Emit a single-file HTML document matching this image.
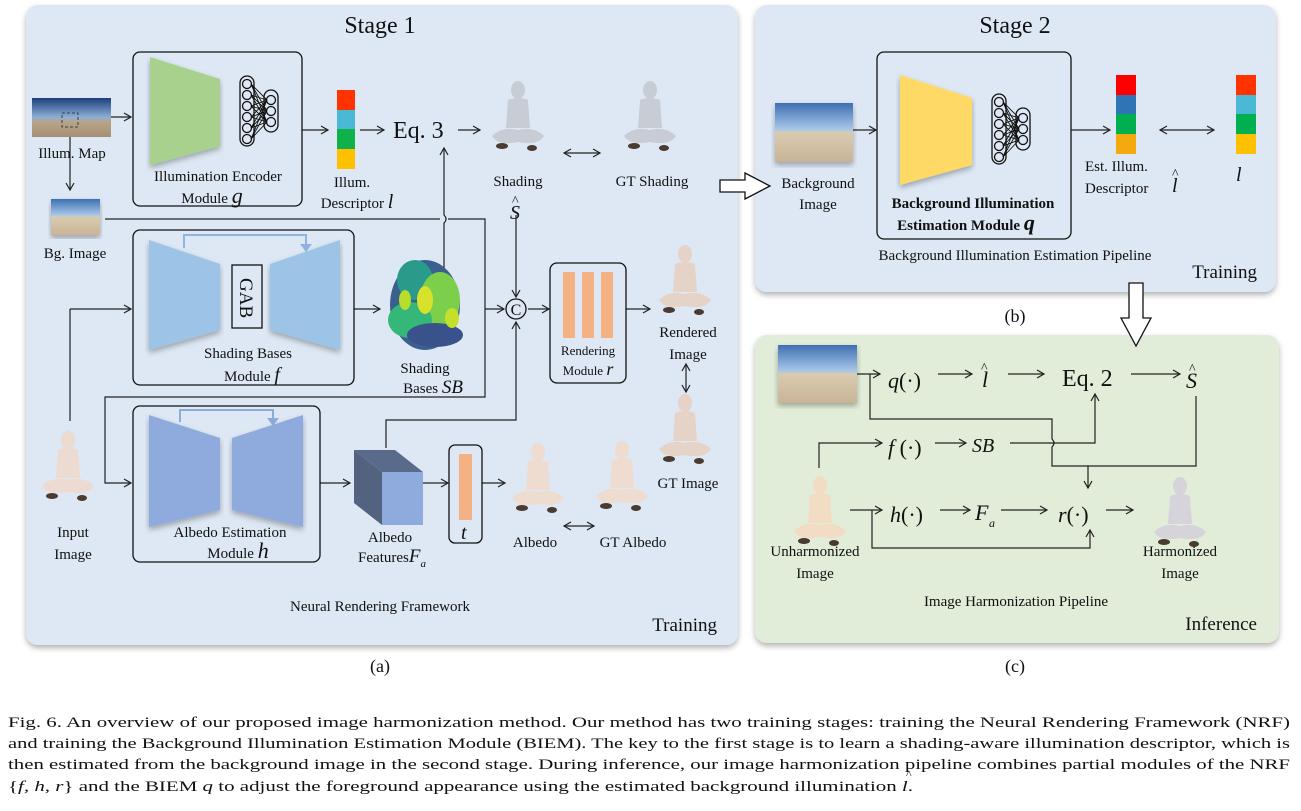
<!DOCTYPE html>
<html><head><meta charset="utf-8"><style>
html,body{margin:0;padding:0;background:#fff;}
svg{display:block;}
text{font-family:"Liberation Serif",serif;fill:#111;}
.i{font-style:italic;}
</style></head><body>
<svg width="1301" height="811" viewBox="0 0 1301 811" xmlns="http://www.w3.org/2000/svg">
<defs>
<marker id="a" markerWidth="10" markerHeight="10" refX="8" refY="5" orient="auto" markerUnits="userSpaceOnUse"><path d="M1,1 L8,5 L1,9" fill="none" stroke="#222" stroke-width="1.2"/></marker>
<marker id="as" markerWidth="10" markerHeight="10" refX="2" refY="5" orient="auto" markerUnits="userSpaceOnUse"><path d="M9,1 L2,5 L9,9" fill="none" stroke="#222" stroke-width="1.2"/></marker>
<filter id="sh" x="-5%" y="-5%" width="110%" height="115%"><feDropShadow dx="0" dy="3" stdDeviation="3" flood-color="#000" flood-opacity="0.3"/></filter>
<linearGradient id="beach" x1="0" y1="0" x2="0" y2="1"><stop offset="0" stop-color="#3f6fb3"/><stop offset="0.45" stop-color="#a8c8e8"/><stop offset="0.5" stop-color="#d9cbb0"/><stop offset="1" stop-color="#c9b497"/></linearGradient>
<linearGradient id="pano" x1="0" y1="0" x2="0" y2="1"><stop offset="0" stop-color="#1d3f7a"/><stop offset="0.5" stop-color="#8db0d8"/><stop offset="0.6" stop-color="#b7a58a"/><stop offset="1" stop-color="#a58f74"/></linearGradient>
<g id="kid">
<ellipse cx="30" cy="10" rx="7" ry="9"/>
<path d="M20,20 Q30,16 40,20 L42,48 L18,48 Z"/>
<path d="M4,56 Q14,46 30,50 Q46,46 56,56 Q50,66 30,62 Q10,66 4,56 Z"/>
<ellipse cx="14" cy="66" rx="6" ry="3" fill="#4a3a30"/>
<ellipse cx="44" cy="68" rx="5" ry="3" fill="#4a3a30"/>
</g>
<g id="nn" fill="none" stroke="#111" stroke-width="1.3">
<rect x="0" y="0" width="14" height="70" rx="7"/><rect x="24" y="14" width="14" height="42" rx="7"/>
<circle cx="7" cy="8" r="4.5"/><circle cx="7" cy="19" r="4.5"/><circle cx="7" cy="30" r="4.5"/><circle cx="7" cy="41" r="4.5"/><circle cx="7" cy="52" r="4.5"/><circle cx="7" cy="63" r="4.5"/>
<circle cx="31" cy="24" r="4.5"/><circle cx="31" cy="35" r="4.5"/><circle cx="31" cy="46" r="4.5"/>
<path d="M11,8 L27,24 M11,8 L27,35 M11,8 L27,46 M11,19 L27,24 M11,19 L27,35 M11,19 L27,46 M11,30 L27,24 M11,30 L27,35 M11,30 L27,46 M11,41 L27,24 M11,41 L27,35 M11,41 L27,46 M11,52 L27,24 M11,52 L27,35 M11,52 L27,46 M11,63 L27,24 M11,63 L27,35 M11,63 L27,46" stroke-width="0.9"/>
</g>
</defs>

<!-- Panels -->
<rect x="26" y="5" width="712" height="640" rx="12" fill="#dde8f4" filter="url(#sh)"/>
<rect x="755" y="5" width="521" height="287" rx="12" fill="#dde8f4" filter="url(#sh)"/>
<rect x="755" y="335" width="524" height="308" rx="12" fill="#e1edd8" filter="url(#sh)"/>

<g stroke="#222" stroke-width="1.2" fill="none">
<!-- panel a lines -->
<line x1="84" y1="117" x2="131" y2="117" marker-end="url(#a)"/>
<line x1="70" y1="122" x2="70" y2="190" marker-end="url(#a)"/>
<path d="M105,219 L440,219 M448,219 L485,219 L485,397 L105,397 L105,483 L131,483" marker-end="url(#a)"/>
<line x1="485" y1="309" x2="504" y2="309" marker-end="url(#a)"/>
<line x1="302" y1="130" x2="328" y2="130" marker-end="url(#a)"/>
<line x1="360" y1="130" x2="384" y2="130" marker-end="url(#a)"/>
<line x1="458" y1="130" x2="480" y2="130" marker-end="url(#a)"/>
<path d="M444,270 L444,223 Q448,219 444,215 L444,148" marker-end="url(#a)"/>
<line x1="564" y1="153" x2="600" y2="153" marker-end="url(#a)" marker-start="url(#as)"/>
<line x1="516" y1="215" x2="516" y2="297" marker-end="url(#a)"/>
<path d="M386,448 L386,420 L516,420 L516,322" marker-end="url(#a)"/>
<line x1="70" y1="421" x2="70" y2="309"/>
<line x1="70" y1="309" x2="131" y2="309" marker-end="url(#a)"/>
<line x1="354" y1="309" x2="380" y2="309" marker-end="url(#a)"/>
<line x1="528" y1="309" x2="549" y2="309" marker-end="url(#a)"/>
<line x1="626" y1="309" x2="650" y2="309" marker-end="url(#a)"/>
<line x1="686" y1="364" x2="686" y2="392" marker-end="url(#a)" marker-start="url(#as)"/>
<line x1="320" y1="483" x2="350" y2="483" marker-end="url(#a)"/>
<line x1="423" y1="483" x2="448" y2="483" marker-end="url(#a)"/>
<line x1="482" y1="483" x2="505" y2="483" marker-end="url(#a)"/>
<line x1="564" y1="526" x2="594" y2="526" marker-end="url(#a)" marker-start="url(#as)"/>
<!-- panel b -->
<line x1="853" y1="130" x2="876" y2="130" marker-end="url(#a)"/>
<line x1="1071" y1="130" x2="1110" y2="130" marker-end="url(#a)"/>
<line x1="1160" y1="130" x2="1214" y2="130" marker-end="url(#a)" marker-start="url(#as)"/>
<!-- panel c -->
<line x1="857" y1="374" x2="880" y2="374" marker-end="url(#a)"/>
<line x1="938" y1="374" x2="972" y2="374" marker-end="url(#a)"/>
<line x1="1008" y1="374" x2="1044" y2="374" marker-end="url(#a)"/>
<line x1="1131" y1="374" x2="1180" y2="374" marker-end="url(#a)"/>
<path d="M870,374 L870,419 L1052,419 L1052,439 Q1056,443 1052,447 L1052,466 L1196,466 L1196,396"/>
<line x1="1088" y1="466" x2="1088" y2="488" marker-end="url(#a)"/>
<path d="M819,468 L819,443 L882,443" marker-end="url(#a)"/>
<line x1="935" y1="443" x2="966" y2="443" marker-end="url(#a)"/>
<path d="M1010,443 L1095,443 L1095,394" marker-end="url(#a)"/>
<line x1="850" y1="510" x2="882" y2="510" marker-end="url(#a)"/>
<line x1="940" y1="510" x2="970" y2="510" marker-end="url(#a)"/>
<line x1="1001" y1="510" x2="1047" y2="510" marker-end="url(#a)"/>
<line x1="1106" y1="510" x2="1133" y2="510" marker-end="url(#a)"/>
<path d="M872,510 L872,548 L1090,548 L1090,530" marker-end="url(#a)"/>
</g>

<!-- hollow arrows -->
<path d="M720,180 L745,180 L745,173 L770,186 L745,199 L745,192 L720,192 Z" fill="#fff" stroke="#111" stroke-width="1.3"/>
<path d="M1129,283 L1143,283 L1143,318 L1151,318 L1136,346 L1121,318 L1129,318 Z" fill="#fff" stroke="#111" stroke-width="1.3"/>

<!-- Stage 1 -->
<text x="380" y="33" font-size="24" text-anchor="middle">Stage  1</text>
<rect x="32" y="98" width="79" height="39" fill="url(#pano)"/>
<rect x="62" y="113" width="16" height="14" fill="none" stroke="#222" stroke-dasharray="3,2" stroke-width="0.8"/>
<text x="72" y="158" font-size="15" text-anchor="middle">Illum. Map</text>
<rect x="51" y="199" width="49" height="36" fill="url(#beach)" filter="url(#sh)"/>
<text x="75" y="258" font-size="15" text-anchor="middle">Bg. Image</text>

<rect x="133" y="52" width="169" height="154" rx="7" fill="none" stroke="#111" stroke-width="1.3"/>
<path d="M150,57 L220,79 L220,146 L150,165 Z" fill="#a9d18e" filter="url(#sh)"/>
<use href="#nn" x="240" y="76"/>
<text x="218" y="181" font-size="15" text-anchor="middle">Illumination Encoder</text>
<text x="212" y="203" font-size="15" text-anchor="middle">Module <tspan class="i" font-size="22">g</tspan></text>

<rect x="337" y="90" width="18" height="20" fill="#ff3300"/><rect x="337" y="110" width="18" height="19" fill="#4bb8d6"/><rect x="337" y="129" width="18" height="20" fill="#0fb14b"/><rect x="337" y="149" width="18" height="20" fill="#ffc000"/>
<text x="352" y="187" font-size="15" text-anchor="middle">Illum.</text>
<text x="357" y="208" font-size="15" text-anchor="middle">Descriptor <tspan class="i" font-size="20">l</tspan></text>
<text x="393" y="138" font-size="24">Eq. 3</text>

<use href="#kid" x="488" y="80" fill="#c8ccd4" transform="translate(0,0)"/>
<use href="#kid" x="620" y="80" fill="#c8ccd4"/>
<text x="518" y="186" font-size="15" text-anchor="middle">Shading</text>
<text x="652" y="186" font-size="15" text-anchor="middle">GT Shading</text>
<text x="510" y="219" font-size="20" class="i">S</text><text x="512" y="205" font-size="14">^</text>

<!-- shading bases box -->
<rect x="133" y="230" width="221" height="155" rx="7" fill="none" stroke="#111" stroke-width="1.3"/>
<path d="M184,248 L184,235 L306,235 L306,248" fill="none" stroke="#8fb4e0" stroke-width="2"/>
<path d="M300,244 L312,244 L306,252 Z" fill="#8fb4e0"/>
<path d="M149,240 L220,264 L220,330 L149,350 Z" fill="#9dc3e6" filter="url(#sh)"/>
<path d="M270,264 L340,240 L340,350 L270,330 Z" fill="#9dc3e6" filter="url(#sh)"/>
<rect x="232" y="265" width="30" height="63" fill="none" stroke="#111" stroke-width="1.3"/>
<text x="0" y="0" font-size="19" transform="translate(240,278) rotate(90)">GAB</text>
<text x="248" y="358" font-size="15" text-anchor="middle">Shading Bases</text>
<text x="252" y="381" font-size="15" text-anchor="middle">Module <tspan class="i" font-size="20">f</tspan></text>

<!-- blob -->
<g>
<ellipse cx="425" cy="305" rx="35" ry="45" fill="#3b5f8f"/>
<ellipse cx="415" cy="280" rx="18" ry="20" fill="#2a9a8a"/>
<ellipse cx="440" cy="300" rx="20" ry="28" fill="#7ccf4a"/>
<ellipse cx="410" cy="320" rx="22" ry="18" fill="#35b779"/>
<ellipse cx="435" cy="335" rx="28" ry="12" fill="#3a528b"/>
<ellipse cx="425" cy="300" rx="8" ry="14" fill="#d8e22a"/>
<ellipse cx="405" cy="300" rx="6" ry="10" fill="#b6de2b"/>
<ellipse cx="452" cy="318" rx="7" ry="10" fill="#c4e02b"/>
</g>
<text x="425" y="373" font-size="15" text-anchor="middle">Shading</text>
<text x="433" y="393" font-size="15" text-anchor="middle">Bases <tspan class="i" font-size="19">SB</tspan></text>

<circle cx="516" cy="309" r="10" fill="none" stroke="#111" stroke-width="1.3"/>
<text x="516" y="315" font-size="16" text-anchor="middle">C</text>

<rect x="550" y="263" width="76" height="120" rx="7" fill="none" stroke="#111" stroke-width="1.3"/>
<rect x="563" y="272" width="12" height="66" fill="#f4b183"/><rect x="582" y="272" width="12" height="66" fill="#f4b183"/><rect x="601" y="272" width="12" height="66" fill="#f4b183"/>
<text x="588" y="355" font-size="13" text-anchor="middle">Rendering</text>
<text x="588" y="375" font-size="13" text-anchor="middle">Module <tspan class="i" font-size="18">r</tspan></text>

<use href="#kid" x="655" y="244" fill="#e5d3c8"/>
<text x="688" y="337" font-size="15" text-anchor="middle">Rendered</text>
<text x="688" y="359" font-size="15" text-anchor="middle">Image</text>
<use href="#kid" x="655" y="393" fill="#e5d3c8"/>
<text x="688" y="488" font-size="15" text-anchor="middle">GT Image</text>

<use href="#kid" x="38" y="430" fill="#eddad0"/>
<text x="73" y="537" font-size="15" text-anchor="middle">Input</text>
<text x="73" y="559" font-size="15" text-anchor="middle">Image</text>

<!-- albedo box -->
<rect x="133" y="406" width="187" height="156" rx="7" fill="none" stroke="#111" stroke-width="1.3"/>
<path d="M180,422 L180,410 L273,410 L273,422" fill="none" stroke="#8faadc" stroke-width="2"/>
<path d="M267,418 L279,418 L273,426 Z" fill="#8faadc"/>
<path d="M149,415 L220,438 L220,510 L149,527 Z" fill="#8faadc" filter="url(#sh)"/>
<path d="M232,438 L303,415 L303,527 L232,510 Z" fill="#8faadc" filter="url(#sh)"/>
<text x="230" y="537" font-size="15" text-anchor="middle">Albedo Estimation</text>
<text x="238" y="558" font-size="15" text-anchor="middle">Module <tspan class="i" font-size="22">h</tspan></text>

<path d="M354,450 L395,450 L423,472 L382,472 Z" fill="#5a6a8a"/>
<path d="M354,450 L382,472 L382,525 L354,503 Z" fill="#53627e"/>
<rect x="382" y="472" width="41" height="53" fill="#8faadc"/>
<text x="390" y="542" font-size="15" text-anchor="middle">Albedo</text>
<text x="392" y="562" font-size="15" text-anchor="middle">Features<tspan class="i" font-size="19">F</tspan><tspan class="i" font-size="11" dy="5">a</tspan></text>

<rect x="449" y="445" width="33" height="98" rx="6" fill="none" stroke="#111" stroke-width="1.3"/>
<rect x="459" y="454" width="13" height="66" fill="#f4b183"/>
<text x="461" y="539" font-size="20" class="i">t</text>

<use href="#kid" x="508" y="442" fill="#eedcd0"/>
<use href="#kid" x="592" y="440" fill="#eedcd0"/>
<text x="535" y="547" font-size="15" text-anchor="middle">Albedo</text>
<text x="633" y="547" font-size="15" text-anchor="middle">GT Albedo</text>

<text x="380" y="611" font-size="15" text-anchor="middle">Neural Rendering Framework</text>
<text x="717" y="631" font-size="19" text-anchor="end">Training</text>
<text x="380" y="672" font-size="18" text-anchor="middle">(a)</text>

<!-- Stage 2 -->
<text x="1015" y="33" font-size="24" text-anchor="middle">Stage  2</text>
<rect x="775" y="103" width="78" height="59" fill="url(#beach)" filter="url(#sh)"/>
<text x="818" y="188" font-size="15" text-anchor="middle">Background</text>
<text x="818" y="209" font-size="15" text-anchor="middle">Image</text>
<rect x="877" y="52" width="194" height="187" rx="7" fill="none" stroke="#111" stroke-width="1.3"/>
<path d="M900,75 L972,98 L972,165 L900,185 Z" fill="#ffd966" filter="url(#sh)"/>
<use href="#nn" x="992" y="94"/>
<text x="973" y="208" font-size="15" font-weight="bold" text-anchor="middle">Background Illumination</text>
<text x="966" y="230" font-size="15" font-weight="bold" text-anchor="middle">Estimation Module <tspan class="i" font-size="22">q</tspan></text>
<rect x="1116" y="75" width="20" height="20" fill="#ff0000"/><rect x="1116" y="95" width="20" height="19" fill="#2e75b6"/><rect x="1116" y="114" width="20" height="20" fill="#00b050"/><rect x="1116" y="134" width="20" height="20" fill="#f4a90f"/>
<text x="1085" y="171" font-size="15">Est. Illum.</text>
<text x="1085" y="193" font-size="15">Descriptor</text>
<text x="1172" y="192" font-size="20" class="i">l</text><text x="1172" y="178" font-size="14">^</text>
<rect x="1236" y="75" width="20" height="20" fill="#ff3300"/><rect x="1236" y="95" width="20" height="19" fill="#4bb8d6"/><rect x="1236" y="114" width="20" height="20" fill="#00b050"/><rect x="1236" y="134" width="20" height="20" fill="#ffc000"/>
<text x="1236" y="181" font-size="20" class="i">l</text>
<text x="1015" y="260" font-size="15" text-anchor="middle">Background Illumination Estimation Pipeline</text>
<text x="1257" y="278" font-size="19" text-anchor="end">Training</text>
<text x="1015" y="322" font-size="18" text-anchor="middle">(b)</text>

<!-- Panel c -->
<rect x="778" y="345" width="79" height="58" fill="url(#beach)" filter="url(#sh)"/>
<text x="888" y="388" font-size="22" class="i">q<tspan font-style="normal">(·)</tspan></text>
<text x="982" y="387" font-size="22" class="i">l</text><text x="981" y="372" font-size="14">^</text>
<text x="1062" y="386" font-size="24">Eq. 2</text>
<text x="1186" y="388" font-size="22" class="i">S</text><text x="1189" y="373" font-size="14">^</text>
<text x="888" y="455" font-size="22" class="i">f<tspan font-style="normal"> (·)</tspan></text>
<text x="972" y="452" font-size="20" class="i">SB</text>
<text x="890" y="522" font-size="22" class="i">h<tspan font-style="normal">(·)</tspan></text>
<text x="975" y="520" font-size="22" class="i">F</text><text x="989" y="527" font-size="12" class="i">a</text>
<text x="1058" y="522" font-size="22" class="i">r<tspan font-style="normal">(·)</tspan></text>
<use href="#kid" x="790" y="475" fill="#f2dcc4"/>
<text x="815" y="556" font-size="15" text-anchor="middle">Unharmonized</text>
<text x="815" y="578" font-size="15" text-anchor="middle">Image</text>
<use href="#kid" x="1150" y="476" fill="#d6d4da"/>
<text x="1180" y="556" font-size="15" text-anchor="middle">Harmonized</text>
<text x="1180" y="578" font-size="15" text-anchor="middle">Image</text>
<text x="1016" y="606" font-size="15" text-anchor="middle">Image Harmonization Pipeline</text>
<text x="1257" y="630" font-size="19" text-anchor="end">Inference</text>
<text x="1015" y="672" font-size="18" text-anchor="middle">(c)</text>

<!-- caption -->
<text x="8" y="727" font-size="15" textLength="1282" lengthAdjust="spacingAndGlyphs">Fig. 6.  An overview of our proposed image harmonization method. Our method has two training stages: training the Neural Rendering Framework (NRF)</text>
<text x="8" y="748" font-size="15" textLength="1282" lengthAdjust="spacingAndGlyphs">and training the Background Illumination Estimation Module (BIEM). The key to the first stage is to learn a shading-aware illumination descriptor, which is</text>
<text x="8" y="769" font-size="15" textLength="1282" lengthAdjust="spacingAndGlyphs">then estimated from the background image in the second stage. During inference, our image harmonization pipeline combines partial modules of the NRF</text>
<text x="8" y="791" font-size="15" textLength="905" lengthAdjust="spacingAndGlyphs">{<tspan class="i">f, h, r</tspan>} and the BIEM <tspan class="i">q</tspan> to adjust the foreground appearance using the estimated background illumination <tspan class="i">l</tspan>.</text>
<text x="906" y="778" font-size="12">^</text>
</svg>
</body></html>
